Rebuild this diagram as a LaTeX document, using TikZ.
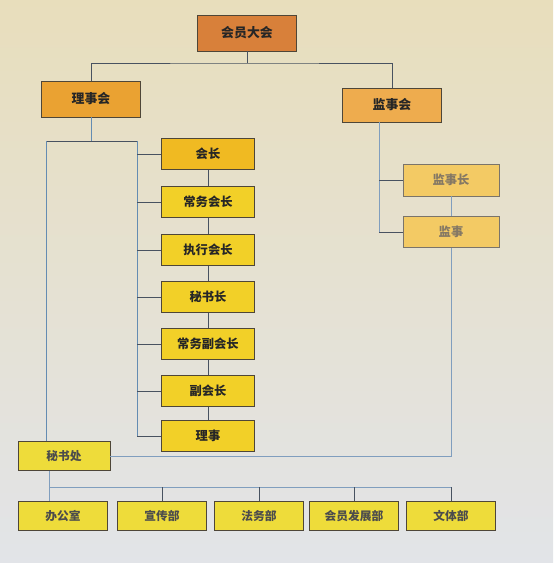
\documentclass[tikz,border=0pt]{standalone}
\usepackage{fontspec}
\newfontfamily\cjk{Noto Sans CJK SC}
\usetikzlibrary{positioning}
\definecolor{bgtop}{RGB}{232, 222, 188}
\definecolor{bgbot}{RGB}{226, 228, 232}
\definecolor{boxline}{RGB}{78, 70, 56}
\definecolor{darkline}{RGB}{72, 82, 96}
\definecolor{lightline}{RGB}{100, 140, 178}
\definecolor{paleline}{RGB}{128, 158, 190}
\definecolor{topfill}{RGB}{216, 128, 58}
\definecolor{midfill}{RGB}{234, 162, 50}
\definecolor{supfill}{RGB}{238, 172, 78}
\definecolor{headfill}{RGB}{240, 186, 34}
\definecolor{chairfill}{RGB}{242, 208, 40}
\definecolor{palefill}{RGB}{243, 202, 100}
\definecolor{paletext}{RGB}{132, 120, 100}
\definecolor{deptfill}{RGB}{238, 220, 58}

\begin{document}
\begin{tikzpicture}[x=0.03cm, y=-0.03cm,
  obox/.style={draw=boxline, line width=0.7pt, minimum width=2.97cm, minimum height=1.08cm, inner sep=2pt, font=\cjk\bfseries\fontsize{11pt}{13pt}\selectfont, text=black!85},
  ybox/.style={draw=boxline, line width=0.7pt, fill=chairfill, minimum width=2.79cm, minimum height=0.93cm, inner sep=2pt, font=\cjk\bfseries\fontsize{10.5pt}{12pt}\selectfont, text=black!85},
  pbox/.style={draw=boxline!75, line width=0.7pt, fill=palefill, minimum width=2.88cm, minimum height=0.96cm, inner sep=2pt, font=\cjk\bfseries\fontsize{10.5pt}{12pt}\selectfont, text=paletext},
  dbox/.style={draw=boxline, line width=0.7pt, fill=deptfill, minimum width=2.67cm, minimum height=0.87cm, inner sep=2pt, font=\cjk\bfseries\fontsize{10pt}{12pt}\selectfont, text=black!70},
  dline/.style={draw=darkline, line width=0.8pt},
  lline/.style={draw=lightline, line width=0.8pt},
  pline/.style={draw=paleline, line width=0.8pt}
]
  \shade[top color=bgtop, bottom color=bgbot] (0,0) rectangle (553,563);

  % top levels
  \node[obox, fill=topfill] (hydh) at (247,33) {会员大会};
  \node[obox, fill=midfill] (lsh) at (91,99) {理事会};
  \node[obox, fill=supfill, minimum height=1.02cm] (jsh) at (392,105) {监事会};

  % council column
  \node[ybox, fill=headfill] (hz) at (208,154) {会长};
  \node[ybox] (cwhz) at (208,202) {常务会长};
  \node[ybox] (zxhz) at (208,250) {执行会长};
  \node[ybox] (msz) at (208,297) {秘书长};
  \node[ybox] (cwfhz) at (208,344) {常务副会长};
  \node[ybox] (fhz) at (208,391) {副会长};
  \node[ybox] (ls) at (208,436) {理事};

  % supervisors
  \node[pbox] (jsz) at (451,180) {监事长};
  \node[pbox, minimum height=0.93cm] (js) at (451,232) {监事};

  % secretariat and departments
  \node[dbox, minimum width=2.76cm] (msc) at (64,456) {秘书处};
  \node[dbox] (bgs) at (63,516) {办公室};
  \node[dbox] (xcb) at (162,516) {宣传部};
  \node[dbox] (fwb) at (259,516) {法务部};
  \node[dbox] (hyfzb) at (354,516) {会员发展部};
  \node[dbox] (wtb) at (451,516) {文体部};

  \coordinate (topbus) at (247,63);
  \coordinate (lcorner) at (46,141);
  \coordinate (mcorner) at (137,141);
  \coordinate (rline) at (379,0);
  \coordinate (bbus) at (49,487);

  \draw[dline] (hydh.south) -- (topbus);
  \draw[dline] (lsh.north) |- (topbus) -| (jsh.north);

  \draw[lline] (lsh.south) -- (lsh.south |- lcorner);
  \draw[dline] (lcorner) -- (mcorner);
  \draw[lline] (lcorner) -- (lcorner |- msc.north);
  \draw[lline] (mcorner) -- (mcorner |- ls.west);
  \foreach \n in {hz, cwhz, zxhz, msz, cwfhz, fhz, ls}
    \draw[dline] (mcorner |- \n.west) -- (\n.west);
  \foreach \a/\b in {hz/cwhz, cwhz/zxhz, zxhz/msz, msz/cwfhz, cwfhz/fhz, fhz/ls}
    \draw[dline] (\a.south) -- (\b.north);

  \draw[pline] (jsh.south -| rline) -- (rline |- js.west);
  \draw[dline] (rline |- jsz.west) -- (jsz.west);
  \draw[dline] (rline |- js.west) -- (js.west);
  \draw[pline] (jsz.south) -- (js.north);
  \draw[pline] (js.south) |- (msc.east);

  \draw[pline] (msc.south -| bbus) -- (bbus |- bgs.north);
  \draw[pline] (bbus) -- (bbus -| wtb.north);
  \foreach \n in {xcb, fwb, hyfzb, wtb}
    \draw[dline] (bbus -| \n.north) -- (\n.north);
\end{tikzpicture}
\end{document}
